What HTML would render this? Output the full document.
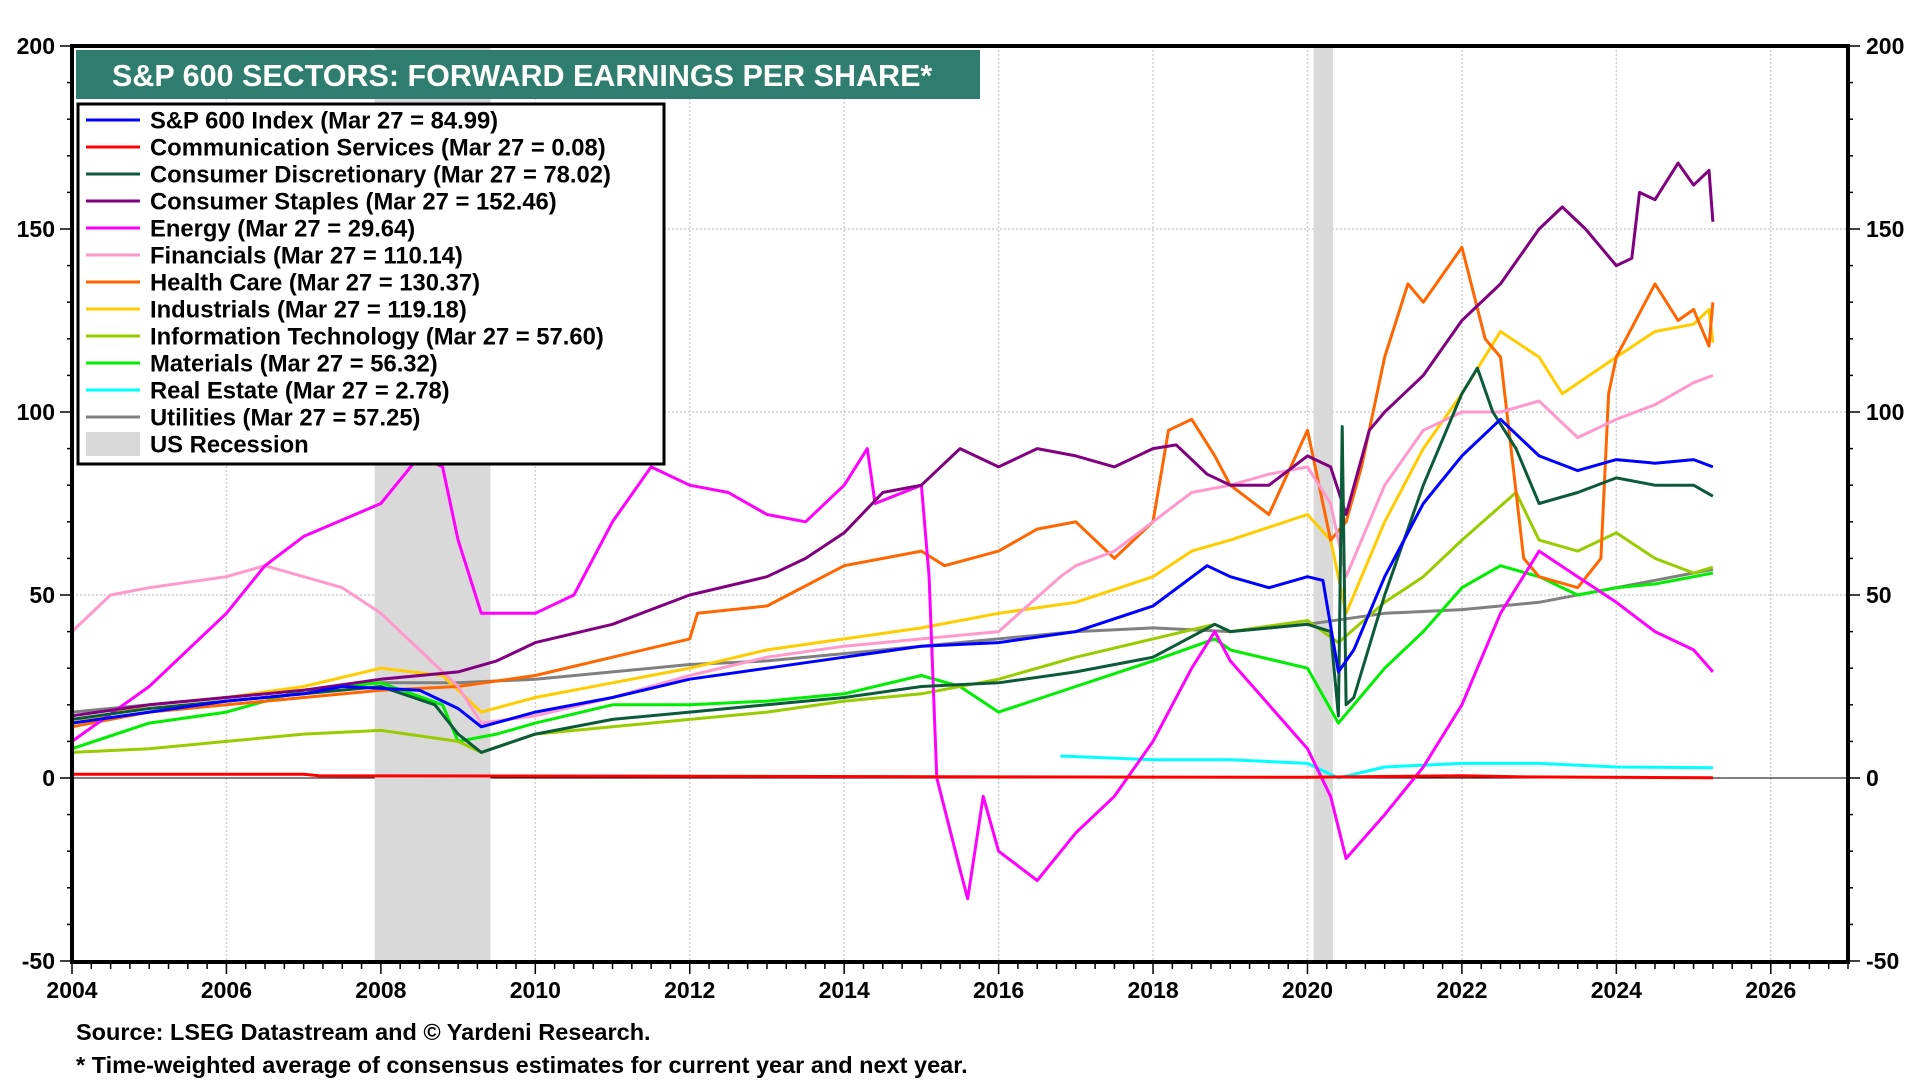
<!DOCTYPE html>
<html><head><meta charset="utf-8"><style>
html,body{margin:0;padding:0;background:#fff;}
svg{display:block;font-family:"Liberation Sans",sans-serif;font-weight:bold;}
</style></head><body>
<svg id="chart" width="1920" height="1080" viewBox="0 0 1920 1080">
<g id="grid"></g>
<g id="rec"></g>
<g id="lines"></g>
<g id="axes"></g>
<rect x="76" y="50" width="904" height="49" fill="#2e7d6f"/>
<text x="112" y="86" fill="#fff" font-size="30.5">S&amp;P 600 SECTORS: FORWARD EARNINGS PER SHARE*</text>
<g id="legend"></g>
<text x="76" y="1040" font-size="23.5">Source: LSEG Datastream and © Yardeni Research.</text>
<text x="76" y="1073" font-size="23.5">* Time-weighted average of consensus estimates for current year and next year.</text>
</svg>
<script>
const seriesNames=["S&P 600 Index (Mar 27 = 84.99)","Communication Services (Mar 27 = 0.08)","Consumer Discretionary (Mar 27 = 78.02)","Consumer Staples (Mar 27 = 152.46)","Energy (Mar 27 = 29.64)","Financials (Mar 27 = 110.14)","Health Care (Mar 27 = 130.37)","Industrials (Mar 27 = 119.18)","Information Technology (Mar 27 = 57.60)","Materials (Mar 27 = 56.32)","Real Estate (Mar 27 = 2.78)","Utilities (Mar 27 = 57.25)"];
const seriesColors=["#0000ff","#ff0000","#0b5a3a","#800080","#ff00ff","#ff99cc","#ff6600","#ffcc00","#99cc00","#00ee00","#00ffff","#808080"];
const xTickLabels=[2004,2006,2008,2010,2012,2014,2016,2018,2020,2022,2024,2026];
const yTickLabels=[-50,0,50,100,150,200];
const recessions=[[2007.92,2009.42],[2020.08,2020.33]];
const spxDates=[2004,2005,2006,2007,2007.5,2008.5,2009,2009.3,2010,2011,2012,2013,2014,2015,2016,2017,2018,2018.7,2019,2019.5,2020,2020.2,2020.4,2020.6,2021,2021.5,2022,2022.5,2023,2023.5,2024,2024.5,2025,2025.25];
const spxVals=[15,18,21,23,25,24,19,14,18,22,27,30,33,36,37,40,47,58,55,52,55,54,29,35,55,75,88,98,88,84,87,86,87,85];
const comDates=[2004,2007,2007.2,2012,2016,2020,2022,2022.8,2025.25];
const comVals=[1,1,0.6,0.5,0.3,0.2,0.6,0.3,0.08];
const cdDates=[2004,2005,2006,2007,2008,2008.7,2009,2009.3,2010,2011,2012,2013,2014,2015,2016,2017,2018,2018.8,2019,2020,2020.3,2020.4,2020.45,2020.5,2020.6,2021,2021.5,2022,2022.2,2022.4,2022.7,2023,2023.5,2024,2024.5,2025,2025.25];
const cdVals=[16,19,21,23,25,20,12,7,12,16,18,20,22,25,26,29,33,42,40,42,40,17,96,20,22,50,80,105,112,100,90,75,78,82,80,80,77];
const csDates=[2004,2005,2006,2007,2008,2009,2009.5,2010,2011,2012,2013,2013.5,2014,2014.5,2015,2015.5,2016,2016.5,2017,2017.5,2018,2018.3,2018.7,2019,2019.5,2020,2020.3,2020.5,2020.8,2021,2021.5,2022,2022.5,2023,2023.3,2023.6,2024,2024.2,2024.3,2024.5,2024.8,2025,2025.2,2025.25];
const csVals=[17,20,22,24,27,29,32,37,42,50,55,60,67,78,80,90,85,90,88,85,90,91,83,80,80,88,85,72,95,100,110,125,135,150,156,150,140,142,160,158,168,162,166,152];
const enDates=[2004,2005,2006,2006.5,2007,2008,2008.5,2008.8,2009,2009.3,2010,2010.5,2011,2011.5,2012,2012.5,2013,2013.5,2014,2014.3,2014.4,2015,2015.1,2015.2,2015.5,2015.6,2015.8,2016,2016.5,2017,2017.5,2018,2018.5,2018.8,2019,2019.5,2020,2020.3,2020.5,2021,2021.5,2022,2022.5,2023,2023.5,2024,2024.5,2025,2025.25];
const enVals=[10,25,45,58,66,75,88,85,65,45,45,50,70,85,80,78,72,70,80,90,75,80,55,0,-25,-33,-5,-20,-28,-15,-5,10,30,40,32,20,8,-5,-22,-10,3,20,45,62,55,48,40,35,29];
const fiDates=[2004,2004.5,2005,2006,2006.5,2007,2007.5,2008,2008.5,2009,2009.3,2010,2011,2012,2013,2014,2015,2016,2016.8,2017,2017.5,2018,2018.5,2019,2019.5,2020,2020.3,2020.5,2020.8,2021,2021.5,2022,2022.5,2023,2023.5,2024,2024.5,2025,2025.25];
const fiVals=[40,50,52,55,58,55,52,45,35,25,15,17,22,28,33,36,38,40,55,58,62,70,78,80,83,85,75,55,70,80,95,100,100,103,93,98,102,108,110];
const hcDates=[2004,2005,2006,2007,2008,2009,2010,2011,2012,2012.1,2013,2014,2015,2015.3,2016,2016.5,2017,2017.5,2018,2018.2,2018.5,2018.8,2019,2019.5,2020,2020.3,2020.5,2020.7,2021,2021.3,2021.5,2022,2022.3,2022.5,2022.8,2023,2023.5,2023.8,2023.9,2024,2024.5,2024.8,2025,2025.2,2025.25];
const hcVals=[14,18,20,22,24,25,28,33,38,45,47,58,62,58,62,68,70,60,70,95,98,88,80,72,95,65,70,85,115,135,130,145,120,115,60,55,52,60,105,115,135,125,128,118,130];
const inDates=[2004,2005,2006,2007,2008,2008.8,2009.3,2010,2011,2012,2013,2014,2015,2016,2017,2018,2018.5,2019,2020,2020.3,2020.5,2021,2021.5,2022,2022.5,2023,2023.3,2024,2024.5,2025,2025.2,2025.25];
const inVals=[15,20,22,25,30,28,18,22,26,30,35,38,41,45,48,55,62,65,72,65,45,70,90,105,122,115,105,115,122,124,128,119];
const itDates=[2004,2005,2006,2007,2008,2009,2009.3,2010,2011,2012,2013,2014,2015,2016,2017,2018,2018.8,2019,2020,2020.4,2021,2021.5,2022,2022.7,2023,2023.5,2024,2024.5,2025,2025.25];
const itVals=[7,8,10,12,13,10,7,12,14,16,18,21,23,27,33,38,42,40,43,37,48,55,65,78,65,62,67,60,56,57.6];
const maDates=[2004,2005,2006,2007,2008,2008.8,2009,2009.5,2010,2011,2012,2013,2014,2015,2015.5,2016,2017,2018,2018.8,2019,2020,2020.4,2021,2021.5,2022,2022.5,2023,2023.5,2024,2024.5,2025,2025.25];
const maVals=[8,15,18,24,26,20,10,12,15,20,20,21,23,28,25,18,25,32,38,35,30,15,30,40,52,58,55,50,52,53,55,56];
const reDates=[2016.8,2018,2019,2020,2020.4,2021,2022,2023,2024,2025.25];
const reVals=[6,5,5,4,0,3,4,4,3,2.8];
const utDates=[2004,2006,2008,2009,2010,2011,2012,2013,2014,2015,2016,2017,2018,2019,2020,2021,2022,2023,2024,2025,2025.25];
const utVals=[18,22,26,26,27,29,31,32,34,36,38,40,41,40,42,45,46,48,52,56,57];
const allDates=[spxDates,comDates,cdDates,csDates,enDates,fiDates,hcDates,inDates,itDates,maDates,reDates,utDates];
const allVals=[spxVals,comVals,cdVals,csVals,enVals,fiVals,hcVals,inVals,itVals,maVals,reVals,utVals];
const drawOrder=[11,10,9,8,7,6,5,4,3,2,0,1];

const NS="http://www.w3.org/2000/svg";
const L=72,R=1848,T=46,B=962;
function xs(yr){return L+(yr-2004)*(R-L)/23;}
function ys(v){return 778-v*3.66;}
function mk(tag,attrs,parent){const e=document.createElementNS(NS,tag);for(const k in attrs)e.setAttribute(k,attrs[k]);parent.appendChild(e);return e;}
const grid=document.getElementById('grid'),axes=document.getElementById('axes'),lines=document.getElementById('lines'),rec=document.getElementById('rec'),leg=document.getElementById('legend');

recessions.forEach(r=>{const e=mk('rect',{x:xs(r[0]),y:T,width:xs(r[1])-xs(r[0]),height:B-T,fill:'#d9d9d9'},rec);

});

xTickLabels.forEach(yr=>{const x=xs(yr);
if(yr>2004){const g=mk('line',{x1:x,y1:T,x2:x,y2:B,stroke:'#cfcfcf','stroke-width':1.5,'stroke-dasharray':'2,2'},grid);

}
const t=mk('text',{x:x,y:998,'text-anchor':'middle','font-size':23},axes);t.textContent=yr;

});
for(let q=2004;q<=2027.001;q+=0.25){const x=xs(q);const major=Math.abs(q/2-Math.round(q/2))<1e-6;
mk('line',{x1:x,y1:B,x2:x,y2:B+(major?12:7),stroke:'#000','stroke-width':1.5},axes);}
yTickLabels.forEach(v=>{const y=ys(v);
if(v>-50&&v<200){const g=mk('line',{x1:L,y1:y,x2:R,y2:y,stroke:v===0?'#000':'#cfcfcf','stroke-width':v===0?1:1.5,'stroke-dasharray':v===0?'none':'2,2'},grid);

}
const t1=mk('text',{x:55,y:y+8,'text-anchor':'end','font-size':23},axes);t1.textContent=v;


const t2=mk('text',{x:1866,y:y+8,'text-anchor':'start','font-size':23},axes);t2.textContent=v;

});
for(let v=-50;v<=200;v+=10){const y=ys(v);const major=v%50===0;
mk('line',{x1:L-(major?12:5),y1:y,x2:L,y2:y,stroke:'#000','stroke-width':1.5},axes);
mk('line',{x1:R,y1:y,x2:R+(major?12:5),y2:y,stroke:'#000','stroke-width':1.5},axes);}
const frame=mk('rect',{x:L,y:T,width:R-L,height:B-T,fill:'none',stroke:'#000','stroke-width':4},axes);



drawOrder.forEach(i=>{const d=allDates[i].map((yr,k)=>(k?'L':'M')+xs(yr).toFixed(1)+','+ys(allVals[i][k]).toFixed(1)).join('');
const p=mk('path',{d:d,fill:'none',stroke:seriesColors[i],'stroke-width':3,'stroke-linejoin':'round'},lines);

});

mk('rect',{x:78,y:104,width:586,height:360,fill:'#fff',stroke:'#000','stroke-width':3},leg);
seriesNames.forEach((n,i)=>{const y=120+i*27;
const s=mk('line',{x1:86,y1:y,x2:140,y2:y,stroke:seriesColors[i],'stroke-width':3},leg);


const t=mk('text',{x:150,y:y+8.5,'font-size':23.8},leg);t.textContent=n;

});
const ry=120+12*27;
const rs=mk('rect',{x:86,y:ry-12,width:54,height:24,fill:'#d9d9d9'},leg);


const rt=mk('text',{x:150,y:ry+8.5,'font-size':23.8},leg);rt.textContent='US Recession';


</script>
</body></html>
